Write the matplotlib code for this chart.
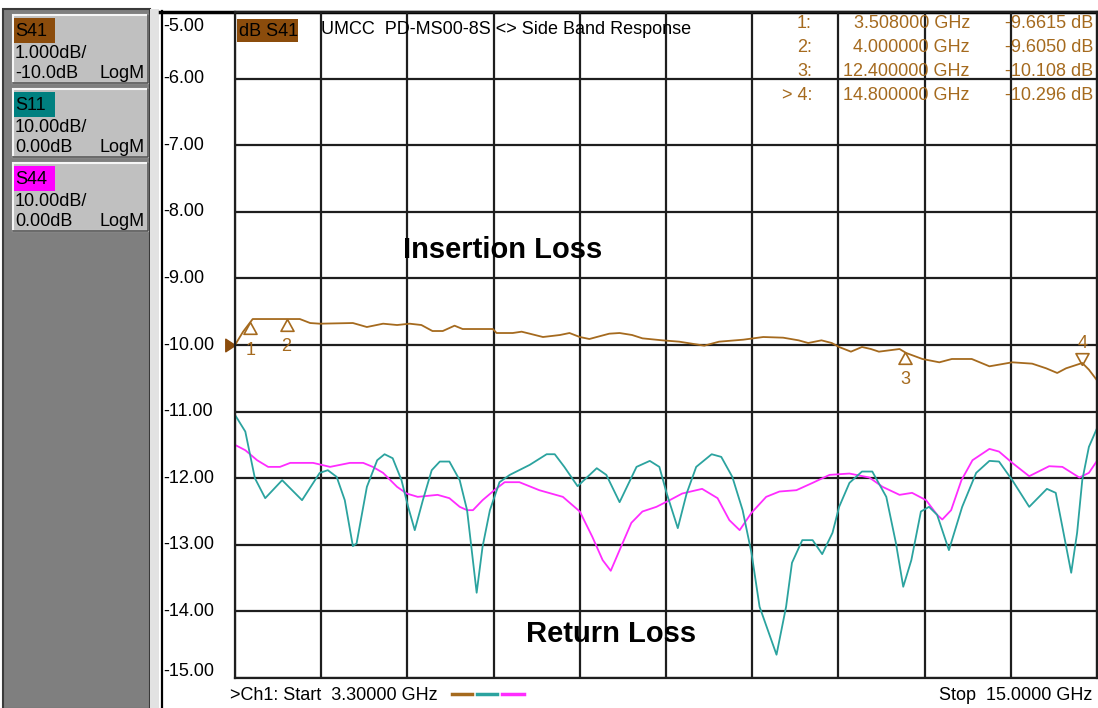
import numpy as np
import matplotlib.pyplot as plt
from matplotlib.path import Path
from matplotlib.patches import Rectangle

plt.rcParams['font.family'] = ['Liberation Sans', 'DejaVu Sans']

# S41 insertion loss trace (GHz, dB)
s41_ghz = [3.30, 3.41, 3.54, 3.68, 4.18, 4.32, 4.45, 4.90, 5.09, 5.31, 5.50, 5.67,
           5.83, 5.98, 6.12, 6.28, 6.39, 6.80, 6.85, 7.07, 7.19, 7.30, 7.48, 7.71,
           7.84, 7.98, 8.11, 8.21, 8.38, 8.52, 8.69, 8.83, 9.10, 9.33, 9.67, 9.87,
           10.20, 10.47, 10.74, 10.95, 11.08, 11.26, 11.40, 11.50, 11.66, 11.81,
           11.93, 12.04, 12.32, 12.41, 12.63, 12.86, 13.03, 13.30, 13.54, 13.85,
           14.12, 14.31, 14.46, 14.58, 14.80, 14.89, 15.00]
s41_db = [-10.00, -9.80, -9.61, -9.61, -9.61, -9.67, -9.68, -9.67, -9.73, -9.68, -9.70, -9.68,
          -9.70, -9.79, -9.79, -9.71, -9.76, -9.76, -9.82, -9.82, -9.80, -9.83, -9.88, -9.85,
          -9.82, -9.88, -9.91, -9.88, -9.83, -9.82, -9.85, -9.90, -9.93, -9.95, -10.01, -9.95,
          -9.92, -9.88, -9.89, -9.93, -9.97, -9.93, -9.97, -10.03, -10.10, -10.03,
          -10.06, -10.10, -10.06, -10.12, -10.21, -10.26, -10.21, -10.21, -10.32, -10.26,
          -10.28, -10.35, -10.42, -10.35, -10.27, -10.37, -10.53]

# S11 return loss trace, in display divisions
s11_ghz = [3.30, 3.44, 3.57, 3.71, 3.94, 4.21, 4.45, 4.56, 4.68, 4.79, 4.90, 4.95,
           5.09, 5.23, 5.33, 5.44, 5.56, 5.65, 5.74, 5.85, 5.97, 6.08, 6.21, 6.35,
           6.45, 6.58, 6.66, 6.76, 6.89, 7.03, 7.30, 7.53, 7.64, 7.77, 7.95, 8.21,
           8.34, 8.52, 8.75, 8.93, 9.06, 9.16, 9.31, 9.43, 9.56, 9.77, 9.90, 10.05,
           10.19, 10.31, 10.42, 10.65, 10.78, 10.86, 11.00, 11.14, 11.27, 11.41,
           11.50, 11.64, 11.81, 11.95, 12.14, 12.27, 12.37, 12.48, 12.61, 12.72,
           12.83, 12.99, 13.17, 13.36, 13.54, 13.67, 13.85, 14.08, 14.32, 14.44,
           14.53, 14.65, 14.73, 14.80, 14.89, 15.00]
s11_db = [-11.05, -11.30, -12.00, -12.30, -12.03, -12.33, -11.92, -11.88, -11.98, -12.33, -13.02, -12.98,
          -12.13, -11.73, -11.64, -11.70, -12.03, -12.43, -12.78, -12.33, -11.88, -11.75, -11.75, -12.03,
          -12.48, -13.72, -13.03, -12.48, -12.06, -11.95, -11.80, -11.64, -11.64, -11.83, -12.12, -11.85,
          -11.95, -12.36, -11.83, -11.74, -11.83, -12.23, -12.75, -12.23, -11.83, -11.64, -11.68, -11.98,
          -12.48, -13.12, -13.93, -14.65, -13.93, -13.27, -12.93, -12.93, -13.14, -12.82,
          -12.43, -12.07, -11.90, -11.90, -12.28, -12.97, -13.63, -13.23, -12.50, -12.43,
          -12.55, -13.08, -12.43, -11.92, -11.74, -11.75, -12.03, -12.43, -12.16, -12.22,
          -12.73, -13.42, -12.82, -12.03, -11.53, -11.25]

# S44 return loss trace, in display divisions
s44_ghz = [3.30, 3.44, 3.60, 3.75, 3.91, 4.05, 4.36, 4.59, 4.86, 5.04, 5.17, 5.31,
           5.50, 5.63, 5.78, 6.05, 6.21, 6.35, 6.45, 6.53, 6.66, 6.82, 6.96, 7.16,
           7.43, 7.75, 7.98, 8.15, 8.29, 8.40, 8.52, 8.68, 8.83, 9.02, 9.20, 9.37,
           9.64, 9.85, 10.01, 10.15, 10.31, 10.51, 10.69, 10.92, 11.14, 11.37, 11.64,
           11.91, 12.09, 12.32, 12.49, 12.68, 12.83, 12.90, 13.02, 13.16, 13.31, 13.54,
           13.67, 13.85, 14.08, 14.35, 14.53, 14.76, 14.89, 15.00]
s44_db = [-11.50, -11.58, -11.73, -11.83, -11.83, -11.77, -11.77, -11.83, -11.77, -11.77, -11.83, -11.92,
          -12.13, -12.23, -12.28, -12.25, -12.30, -12.43, -12.48, -12.48, -12.33, -12.18, -12.06, -12.06,
          -12.18, -12.28, -12.50, -12.88, -13.23, -13.39, -13.08, -12.67, -12.50, -12.43, -12.33, -12.23,
          -12.16, -12.30, -12.63, -12.78, -12.52, -12.28, -12.20, -12.18, -12.07, -11.95, -11.93,
          -11.99, -12.13, -12.25, -12.22, -12.33, -12.55, -12.62, -12.48, -12.03, -11.73, -11.56,
          -11.60, -11.77, -11.97, -11.82, -11.83, -11.99, -11.92, -11.74]

marker_ghz = [3.508, 4.0, 12.4, 14.8]
marker_db = [-9.6615, -9.605, -10.108, -10.296]
marker_names = ['1:', '2:', '3:', '> 4:']
marker_freq_txt = ['3.508000 GHz', '4.000000 GHz', '12.400000 GHz', '14.800000 GHz']
marker_val_txt = ['-9.6615 dB', '-9.6050 dB', '-10.108 dB', '-10.296 dB']

ytick_vals = [-5, -6, -7, -8, -9, -10, -11, -12, -13, -14, -15]
ytick_labels = ['-5.00', '-6.00', '-7.00', '-8.00', '-9.00', '-10.00',
                '-11.00', '-12.00', '-13.00', '-14.00', '-15.00']

BROWN = '#a56a1e'
TEAL = '#2ba39f'
MAGENTA = '#ff2cff'
W, H = 1098, 708

fig = plt.figure(figsize=(W / 100, H / 100), dpi=100)
fig.patch.set_facecolor('white')

def ftext(x, y, s, **kw):
    kw.setdefault('fontsize', 13)
    kw.setdefault('va', 'center')
    fig.text(x / W, 1 - y / H, s, **kw)

# background in pixel coords: left panel, boxes, header patches
bg = fig.add_axes([0, 0, 1, 1])
bg.set_xlim(0, W)
bg.set_ylim(H, 0)
bg.axis('off')
bg.add_patch(Rectangle((3, 9), 147, 700, fc='#7f7f7f', ec='#3a3a3a', lw=1.5))
bg.add_patch(Rectangle((150, 9), 9, 700, fc='#e2e2e2', ec='none'))
bg.plot([162, 162], [11, H], color='k', lw=1.6)
bg.plot([160, W], [12, 12], color='k', lw=2.5)

boxes = [(15, 'S41', '#8b4c0c', '1.000dB/', '-10.0dB'),
         (89, 'S11', '#008080', '10.00dB/', '0.00dB'),
         (163, 'S44', '#ff00ff', '10.00dB/', '0.00dB')]
for y0, name, col, l2, l3 in boxes:
    bg.add_patch(Rectangle((13, y0), 135, 68, fc='#c0c0c0', ec='#f6f6f6', lw=1.5))
    bg.plot([13, 148, 148], [y0 + 68, y0 + 68, y0], color='#505050', lw=1.2)
    bg.add_patch(Rectangle((14, y0 + 3), 41, 25, fc=col, ec='none'))
    ftext(15, y0 + 17, name)
    ftext(15, y0 + 38, l2)
    ftext(15, y0 + 58, l3)
    ftext(145, y0 + 58, 'LogM', ha='right')

bg.add_patch(Rectangle((237, 19), 61, 23, fc='#8b4c0c', ec='none'))
bg.plot([452, 472], [694, 694], color=BROWN, lw=2.5)
bg.plot([477, 497], [694, 694], color=TEAL, lw=2.5)
bg.plot([502, 524], [694, 694], color=MAGENTA, lw=2.5)

# main grid
ax = fig.add_axes([235 / W, 30 / H, 862 / W, 666 / H])
ax.set_facecolor('none')
ax.set_xlim(3.3, 15.0)
ax.set_ylim(-15, -5)
ax.set_xticks(np.linspace(3.3, 15.0, 11))
ax.set_yticks(ytick_vals)
ax.grid(color='#1e1e1e', lw=1.6)
ax.tick_params(length=0, labelbottom=False, labelleft=False)
for sp in ax.spines.values():
    sp.set_color('#1e1e1e')
    sp.set_linewidth(1.6)

ax.plot(s44_ghz, s44_db, color=MAGENTA, lw=1.3)
ax.plot(s11_ghz, s11_db, color=TEAL, lw=1.3)
ax.plot(s41_ghz, s41_db, color=BROWN, lw=1.3)

# y labels
for v, lab in zip(ytick_vals, ytick_labels):
    yy = min(max(v, -14.9), -5.22)
    ax.text(-0.083, yy, lab, transform=ax.get_yaxis_transform(), fontsize=13,
            va='center', ha='left', clip_on=False)

# reference level arrow
ref = Path([(0, 0), (-1, 0.65), (-1, -0.65), (0, 0)])
ax.plot([3.3], [-10.0], marker=ref, ms=14, color='#8b4c0c', ls='none', clip_on=False)

# markers
tri_up = Path([(0, 0), (-0.55, -1), (0.55, -1), (0, 0)])
tri_dn = Path([(0, 0), (-0.55, 1), (0.55, 1), (0, 0)])
for i, (f, v) in enumerate(zip(marker_ghz, marker_db)):
    num = str(i + 1)
    if i < 3:
        ax.plot([f], [v], marker=tri_up, ms=17, mfc='none', mec=BROWN, mew=1.2,
                ls='none', clip_on=False)
        ax.annotate(num, (f, v), xytext=(0, -20), textcoords='offset points',
                    ha='center', va='center', fontsize=13, color=BROWN)
    else:
        ax.plot([f], [v], marker=tri_dn, ms=17, mfc='none', mec=BROWN, mew=1.2,
                ls='none', clip_on=False)
        ax.annotate(num, (f, v), xytext=(0, 15), textcoords='offset points',
                    ha='center', va='center', fontsize=13, color=BROWN)

# header texts
ftext(239, 31, 'dB S41')
ftext(321, 30, 'UMCC  PD-MS00-8S <> Side Band Response')
rows_y = [23, 47, 71, 96]
for y, a, b, c in zip(rows_y, marker_names, marker_freq_txt, marker_val_txt):
    ftext(812, y, a, ha='right', color=BROWN)
    ftext(970, y, b, ha='right', color=BROWN)
    ftext(1093, y, c, ha='right', color=BROWN)

ftext(503, 250, 'Insertion Loss', ha='center', fontsize=21, fontweight='bold')
ftext(611, 634, 'Return Loss', ha='center', fontsize=21, fontweight='bold')

ftext(230, 695, '>Ch1: Start  3.30000 GHz')
ftext(1092, 695, 'Stop  15.0000 GHz', ha='right')

fig.savefig('out.png', dpi=100)
